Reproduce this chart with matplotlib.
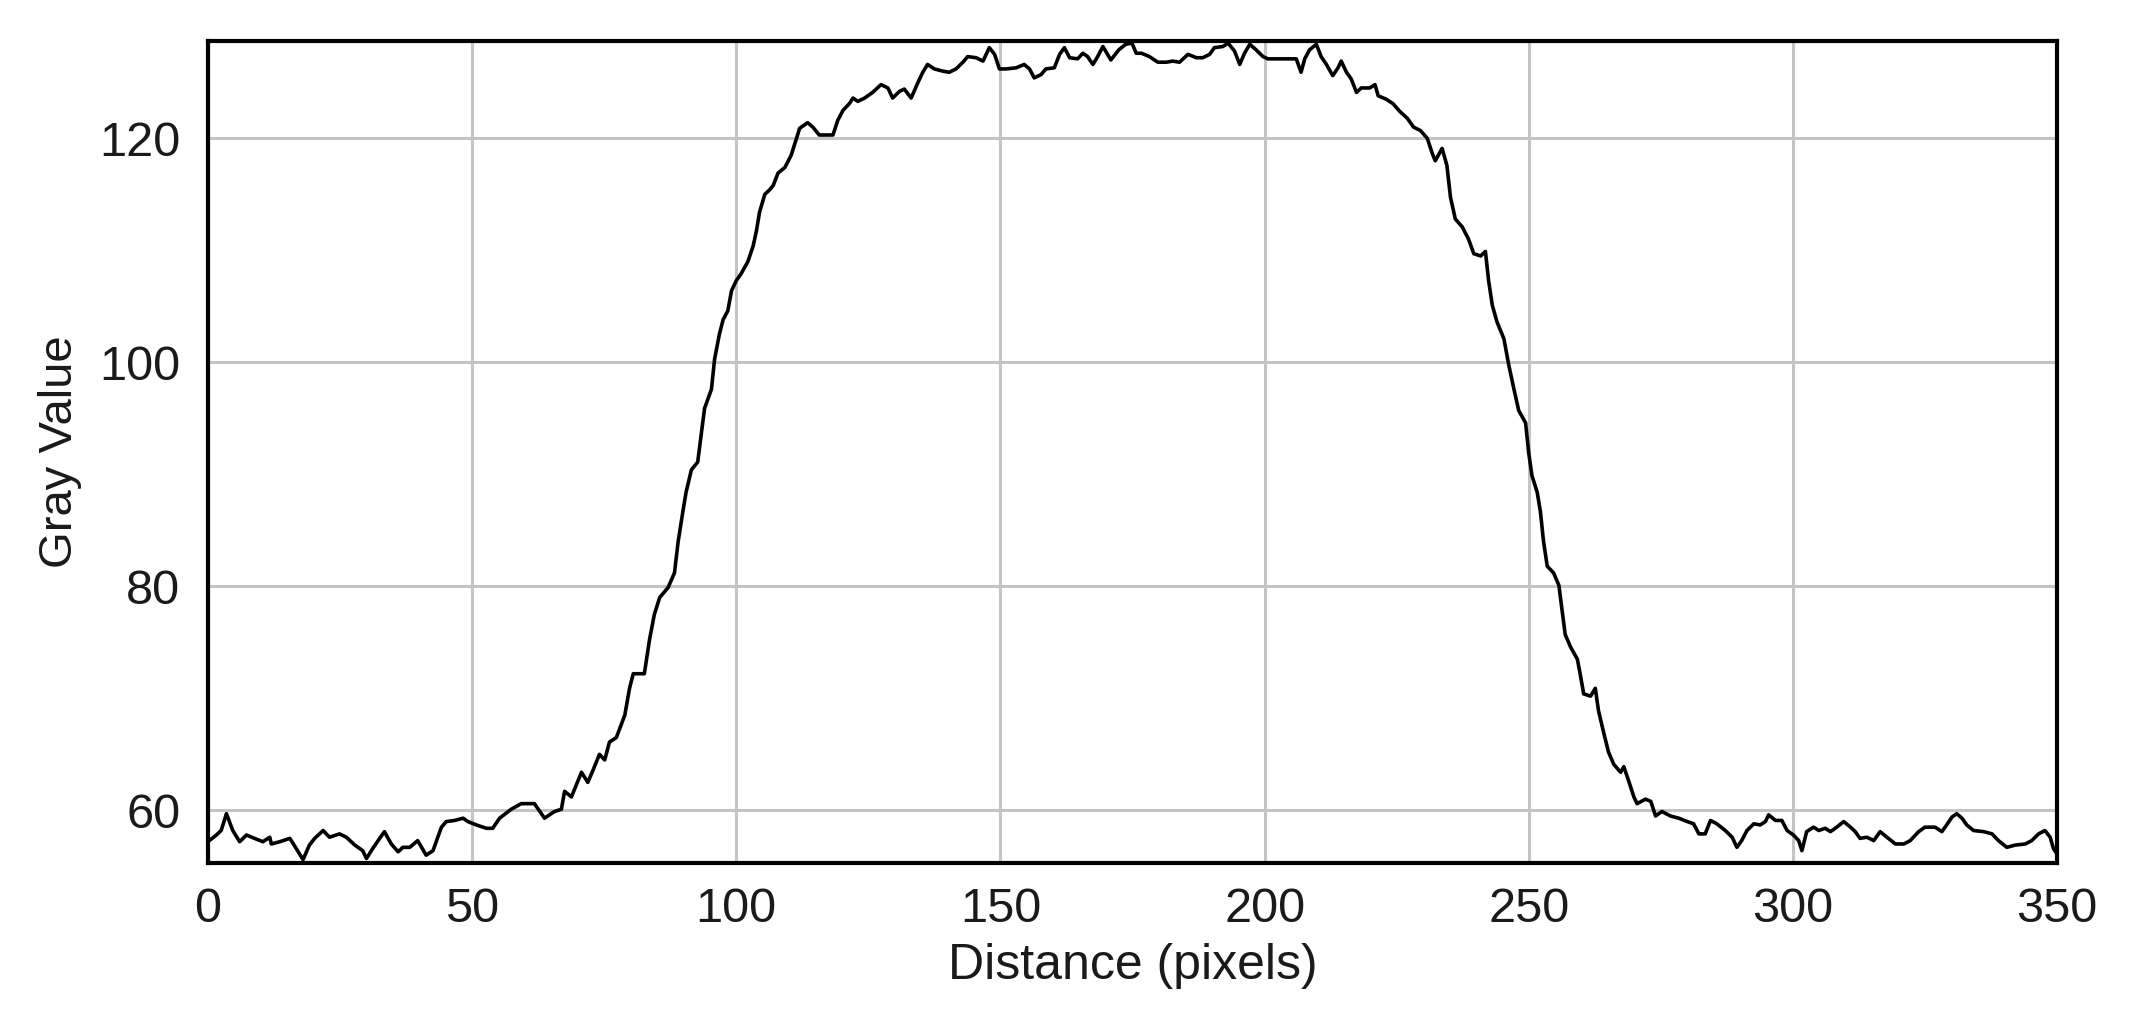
import matplotlib.pyplot as plt

# Plot profile (distance in pixels, gray value)
distance = [
    0, 1.6, 2.5, 3.5, 4.7, 6, 7.3, 8.8, 10.4, 11.7, 12, 13.6, 15.5, 16.7, 18, 19.2,
    20.2, 21.8, 23, 24.9, 26.2, 27.8, 29.3, 30, 31.2, 32.5, 33.4, 34.7, 36, 36.9,
    38.2, 39.7, 41.3, 42.6, 43.5, 44.2, 45.1, 46.7, 48.3, 49.2, 50.8, 52.7, 53.9,
    55.2, 57.4, 59.3, 61.8, 63.7, 65.6, 66.9, 67.5, 68.8, 70.7, 71.9, 72.9, 74.1,
    75.1, 76.0, 77.3, 78.9, 79.8, 80.5, 82.6, 83.6, 84.5, 85.5, 87.1, 88.3, 89.0,
    89.9, 90.5, 91.5, 92.7, 93.4, 94.0, 95.3, 95.9, 96.8, 97.5, 98.4, 99.1, 100,
    100.9, 102.2, 103.2, 103.8, 104.4, 105.4, 106.3, 107.0, 107.9, 109.2, 110.4,
    111.4, 112.0, 113.5, 114.5, 115.7, 118.3, 119.2, 120.2, 121.4, 122.1, 123.0,
    124.3, 125.8, 127.4, 128.7, 129.6, 130.9, 131.8, 133.1, 134.4, 135.3, 136.2,
    137.5, 139.1, 140.3, 141.6, 142.9, 143.8, 145.4, 146.7, 147.9, 148.9, 149.8,
    151.1, 153.0, 154.5, 155.5, 156.4, 157.7, 158.6, 160.2, 161.2, 162.1, 163.1,
    164.6, 165.6, 166.5, 167.5, 168.4, 169.4, 170.9, 172.4, 173.7, 174.9, 175.7,
    176.7, 178.2, 179.8, 181.4, 182.6, 183.9, 185.5, 187.1, 188.3, 189.6, 190.5,
    192.1, 193.1, 194.3, 195.3, 196.2, 197.2, 198.4, 199.7, 200.6, 203.5, 206.0,
    206.9, 207.6, 208.5, 209.8, 210.7, 211.7, 212.9, 213.9, 214.5, 215.5, 216.4,
    217.4, 218.3, 219.9, 220.9, 221.5, 223.0, 224.3, 225.6, 227.0, 228.2, 229.5,
    230.8, 231.7, 232.3, 233.6, 234.5, 235.2, 236.1, 237.4, 238.6, 239.6, 240.9,
    241.8, 242.4, 243.1, 244.0, 245.3, 246.2, 247.2, 248.1, 249.4, 250.0, 250.6,
    251.6, 252.2, 252.8, 253.5, 254.7, 255.7, 256.3, 256.9, 257.9, 259.2, 259.8,
    260.4, 261.7, 262.6, 263.2, 264.2, 265.1, 266.1, 267.4, 268.0, 269.0, 269.9,
    270.5, 272.1, 273.1, 274.0, 275.2, 276.8, 278.4, 280.0, 281.2, 282.2, 283.4,
    284.4, 285.6, 287.2, 288.5, 289.4, 290.3, 291.3, 292.6, 293.8, 294.8, 295.4,
    296.7, 297.9, 298.9, 300.1, 301.1, 301.7, 302.6, 303.9, 304.9, 306.1, 307.1,
    308.3, 309.6, 310.9, 311.8, 312.7, 314.0, 315.3, 316.5, 317.8, 319.4, 321.0,
    322.2, 323.8, 325.0, 326.9, 328.2, 329.1, 330.1, 331.0, 332.0, 332.9, 334.2,
    336.1, 337.7, 338.9, 340.5, 342.1, 344.0, 345.2, 346.5, 347.7, 348.7, 349.3,
    350,
]
gray_value = [
    57.2, 57.8, 58.2, 59.7, 58.2, 57.2, 57.8, 57.5, 57.2, 57.6, 57.0, 57.2, 57.5,
    56.6, 55.6, 56.9, 57.5, 58.2, 57.6, 57.9, 57.6, 56.9, 56.4, 55.7, 56.6, 57.5,
    58.1, 57.0, 56.3, 56.7, 56.7, 57.3, 56.0, 56.4, 57.6, 58.5, 59.0, 59.1, 59.3,
    59.0, 58.7, 58.4, 58.4, 59.3, 60.1, 60.6, 60.6, 59.3, 59.9, 60.1, 61.7, 61.2,
    63.4, 62.5, 63.6, 65.0, 64.5, 66.1, 66.5, 68.5, 70.9, 72.2, 72.2, 75.3, 77.5,
    79.0, 79.9, 81.2, 84.0, 86.7, 88.4, 90.4, 91.1, 93.7, 95.9, 97.6, 100.3, 102.5,
    103.8, 104.6, 106.4, 107.3, 107.9, 109.0, 110.4, 111.7, 113.4, 115.0, 115.4,
    115.8, 116.9, 117.4, 118.5, 120.0, 120.9, 121.4, 121.0, 120.3, 120.3, 121.6,
    122.5, 123.1, 123.6, 123.3, 123.6, 124.1, 124.8, 124.5, 123.6, 124.2, 124.4,
    123.6, 125.0, 125.9, 126.6, 126.2, 126.0, 125.9, 126.2, 126.8, 127.3, 127.2,
    126.9, 128.1, 127.5, 126.2, 126.2, 126.3, 126.6, 126.2, 125.4, 125.7, 126.2,
    126.3, 127.5, 128.1, 127.2, 127.1, 127.6, 127.3, 126.6, 127.3, 128.2, 127.0,
    127.9, 128.4, 128.5, 127.6, 127.6, 127.3, 126.8, 126.8, 126.9, 126.8, 127.5,
    127.2, 127.2, 127.5, 128.1, 128.2, 128.5, 127.8, 126.6, 127.6, 128.4, 127.9,
    127.3, 127.1, 127.1, 127.1, 125.9, 127.1, 127.9, 128.4, 127.3, 126.6, 125.6,
    126.3, 126.9, 125.9, 125.3, 124.1, 124.5, 124.5, 124.8, 123.8, 123.5, 123.1,
    122.4, 121.8, 121.0, 120.7, 120.0, 118.7, 118.0, 119.1, 117.6, 114.7, 112.8,
    112.1, 111.0, 109.7, 109.5, 109.9, 107.3, 105.1, 103.6, 102.1, 99.8, 97.6,
    95.7, 94.6, 91.9, 89.9, 88.4, 86.7, 84.0, 81.8, 81.2, 80.1, 77.9, 75.7, 74.6,
    73.5, 72.0, 70.4, 70.2, 70.9, 68.9, 66.9, 65.2, 64.1, 63.4, 63.9, 62.5, 61.2,
    60.6, 61.0, 60.8, 59.5, 59.9, 59.5, 59.3, 59.0, 58.8, 57.9, 57.9, 59.1, 58.8,
    58.2, 57.6, 56.7, 57.3, 58.2, 58.8, 58.7, 59.0, 59.6, 59.1, 59.1, 58.2, 57.8,
    57.3, 56.4, 58.1, 58.5, 58.2, 58.4, 58.1, 58.5, 59.0, 58.5, 58.1, 57.5, 57.6,
    57.3, 58.1, 57.6, 57.0, 57.0, 57.3, 58.1, 58.5, 58.5, 58.1, 58.7, 59.4, 59.7,
    59.3, 58.7, 58.2, 58.1, 57.9, 57.3, 56.7, 56.9, 57.0, 57.3, 57.9, 58.2, 57.6,
    56.6, 56.1,
]
x_ticks = [0, 50, 100, 150, 200, 250, 300, 350]
y_ticks = [60, 80, 100, 120]

plt.rcParams['font.family'] = ['Liberation Sans', 'DejaVu Sans']

fig = plt.figure(figsize=(21.35, 10.23), dpi=100)
ax = fig.add_axes([0.0974, 0.1564, 0.8661, 0.8036])

ax.plot(distance, gray_value, color='black', linewidth=2.6, zorder=3)

ax.set_xlim(0, 350)
ax.set_ylim(55.3, 128.7)
ax.set_xticks(x_ticks)
ax.set_yticks(y_ticks)
ax.grid(True, color='#c4c4c4', linewidth=2.2)
ax.tick_params(length=0, labelsize=35, colors='#1a1a1a')
ax.tick_params(axis='x', pad=17)
ax.tick_params(axis='y', pad=20)
for s in ax.spines.values():
    s.set_linewidth(3.0)
    s.set_color('black')

ax.set_xlabel('Distance (pixels)', fontsize=36, color='#1a1a1a', labelpad=8)
ax.set_ylabel('Gray Value', fontsize=34, color='#1a1a1a', labelpad=12)

fig.savefig('out.png', dpi=100, facecolor='white')
